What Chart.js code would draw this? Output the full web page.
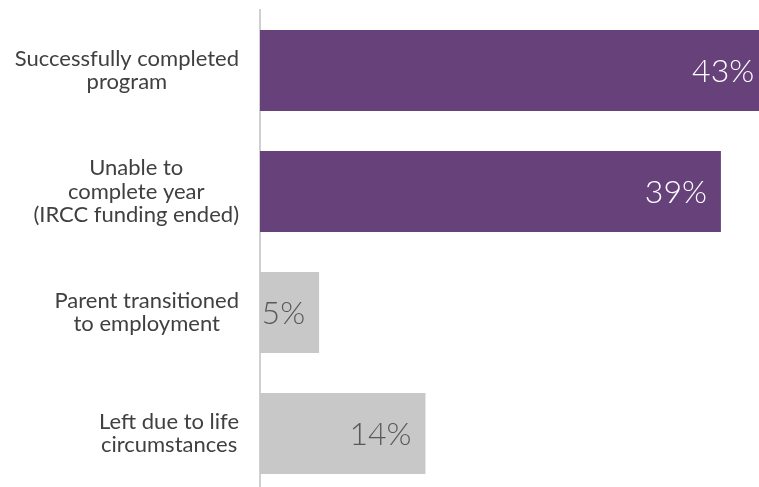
<!DOCTYPE html>
<html>
<head>
<meta charset="utf-8">
<script src="https://cdn.jsdelivr.net/npm/chart.js@4.4.1/dist/chart.umd.min.js"></script>
<style>
    html, body { margin: 0; padding: 0; background: #fff; overflow: hidden; }
    #wrap { position: relative; width: 780px; height: 495px; }
</style>
</head>
<body>
<div id="wrap"><canvas id="ChartOutcome"></canvas></div>
<script>
const categories = [
    ["Successfully completed", "program"],
    ["Unable to", "complete year", "(IRCC funding ended)"],
    ["Parent transitioned", "to employment"],
    ["Left due to life", "circumstances"],
];
const shares = [43, 39, 5, 14];
const barColors = ["#66417A", "#66417A", "#C8C8C8", "#C8C8C8"];
const valueColors = ["#FFFFFF", "#FFFFFF", "#595959", "#595959"];

const labelFont = "22px Lato, 'Open Sans', sans-serif";
const valueFont = "300 32px Lato, 'Open Sans', sans-serif";

// category labels: lines centered on each other, block right-aligned next to the axis
const categoryLabels = {
    id: "categoryLabels",
    afterDraw(chart) {
        const ctx = chart.ctx;
        const y = chart.scales.y;
        ctx.save();
        ctx.font = labelFont;
        ctx.fillStyle = "#404040";
        ctx.textAlign = "center";
        ctx.textBaseline = "middle";
        const lineH = 23.5;
        categories.forEach((lines, i) => {
            const widest = Math.max(...lines.map((l) => ctx.measureText(l).width));
            const cx = y.right - 21 - widest / 2;
            const cy = y.getPixelForValue(i);
            const top = cy - ((lines.length - 1) * lineH) / 2;
            lines.forEach((l, k) => ctx.fillText(l, cx, top + k * lineH));
        });
        ctx.restore();
    },
};

// value labels at the inner end of each bar
const valueLabels = {
    id: "valueLabels",
    afterDatasetsDraw(chart) {
        const ctx = chart.ctx;
        const meta = chart.getDatasetMeta(0);
        ctx.save();
        ctx.font = valueFont;
        ctx.textAlign = "right";
        ctx.textBaseline = "middle";
        meta.data.forEach((bar, i) => {
            ctx.fillStyle = valueColors[i];
            ctx.fillText(shares[i] + "%", bar.x - 14, bar.y + 1);
        });
        ctx.restore();
    },
};

document.addEventListener("DOMContentLoaded", function () {
    const ctx = document.getElementById("ChartOutcome");
    new Chart(ctx, {
        type: "bar",
        data: {
            labels: categories,
            datasets: [
                {
                    data: shares,
                    backgroundColor: barColors,
                    borderWidth: 0,
                    barPercentage: 0.67,
                    categoryPercentage: 1,
                },
            ],
        },
        options: {
            indexAxis: "y",
            responsive: true,
            maintainAspectRatio: false,
            animation: false,
            layout: { padding: { top: 10, bottom: 1, left: 0, right: 0 } },
            plugins: {
                legend: { display: false },
                tooltip: { enabled: false },
            },
            scales: {
                x: {
                    display: false,
                    min: 0,
                    max: 44,
                },
                y: {
                    grid: { display: false },
                    border: { display: true, color: "#D0D0D0", width: 2 },
                    ticks: { display: false },
                    afterFit: function (scale) {
                        scale.width = 260;
                    },
                },
            },
        },
        plugins: [categoryLabels, valueLabels],
    });
});
</script>
</body>
</html>
